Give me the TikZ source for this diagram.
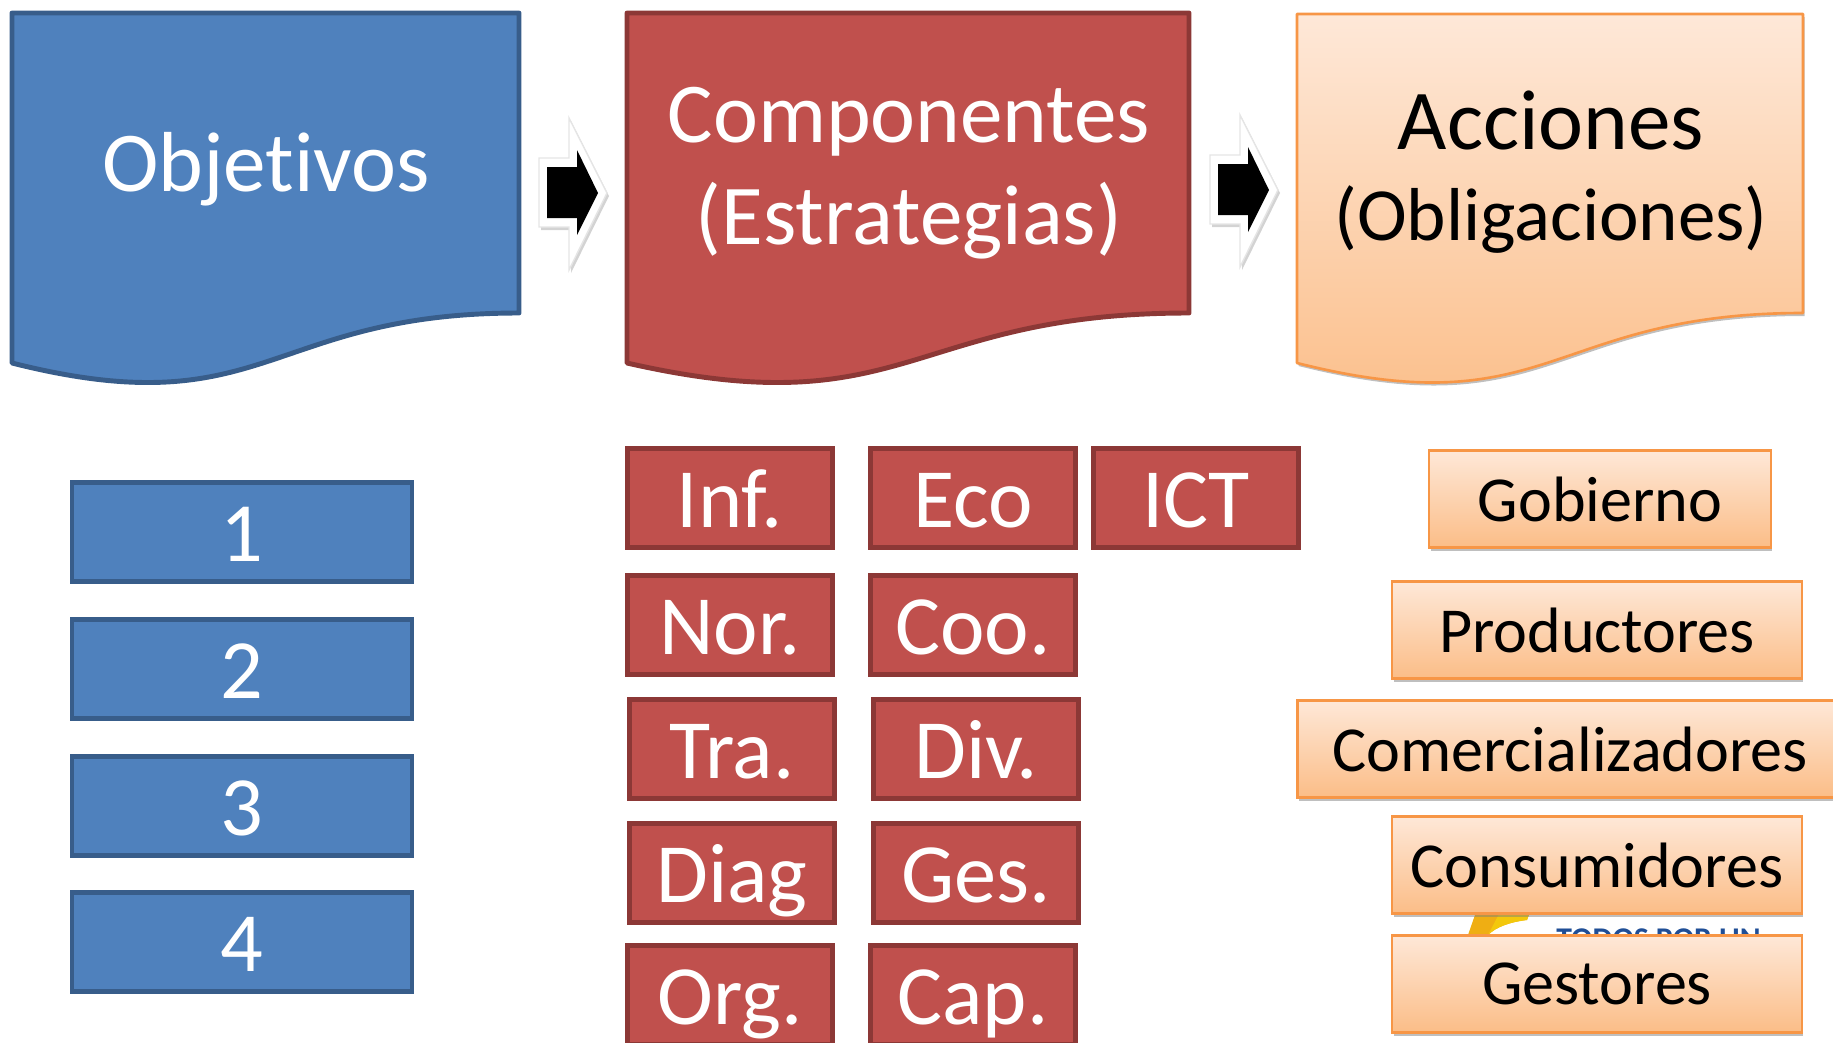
\documentclass[tikz,border=0pt]{standalone}
\usepackage{fontspec}
\setmainfont[Ligatures=NoCommon]{Carlito}
\usetikzlibrary{shadows}
\definecolor{bluefill}{HTML}{4F81BD}
\definecolor{blueline}{HTML}{385D8A}
\definecolor{redfill}{HTML}{C0504D}
\definecolor{redline}{HTML}{8C3836}
\definecolor{orangeline}{HTML}{F79646}
\definecolor{orangetop}{HTML}{FEE8D8}
\definecolor{orangebot}{HTML}{FBBD87}
\definecolor{logoyellow}{HTML}{EFAE13}
\definecolor{logolight}{HTML}{F3C80C}
\definecolor{logoblue}{HTML}{1F4E96}

\begin{document}
\begin{tikzpicture}[x=0.02cm, y=-0.02cm]
    \tikzstyle{bluedoc} = [draw=blueline, fill=bluefill, line width=2.8pt, line join=round]
    \tikzstyle{reddoc} = [draw=redline, fill=redfill, line width=2.8pt, line join=round]
    \tikzstyle{orangedoc} = [draw=orangeline, line width=1.5pt, line join=round, top color=orangetop, bottom color=orangebot, drop shadow={shadow xshift=0.03cm, shadow yshift=-0.06cm, opacity=0.5}]
    \tikzstyle{bluebox} = [rectangle, draw=blueline, fill=bluefill, line width=2.8pt, inner sep=0pt, minimum width=6.8cm, minimum height=1.98cm, text height=43pt, text depth=9pt, text=white, font=\fontsize{48}{48}\selectfont]
    \tikzstyle{redbox} = [rectangle, draw=redline, fill=redfill, line width=2.8pt, inner sep=0pt, minimum width=4.1cm, minimum height=1.98cm, text height=43pt, text depth=9pt, text=white, font=\fontsize{48}{48}\selectfont]
    \tikzstyle{orangebox} = [rectangle, draw=orangeline, line width=1.5pt, top color=orangetop, bottom color=orangebot, drop shadow={shadow xshift=0.03cm, shadow yshift=-0.06cm, opacity=0.5}, minimum height=1.95cm, font=\fontsize{36.5}{36.5}\selectfont]
    \tikzstyle{whitearrow} = [draw=black!10, line width=0.8pt, fill=white, drop shadow={shadow xshift=0.04cm, shadow yshift=-0.06cm, opacity=0.35}]

    \useasboundingbox (0,0) rectangle (1833,1042);
    \clip (0,0) rectangle (1833,1042);

    % top documents
    \draw[bluedoc] (12,13) -- (519,13) -- (519,313) .. controls (266,313) and (266,427) .. (12,363) -- cycle;
    \draw[reddoc] (627,13) -- (1189,13) -- (1189,313) .. controls (908,313) and (908,427) .. (627,363) -- cycle;
    \draw[orangedoc] (1297,14) -- (1803,14) -- (1803,313) .. controls (1550,313) and (1550,427) .. (1297,363) -- cycle;
    \node[text=white, font=\fontsize{48.5}{48.5}\selectfont] (objetivos) at (266,169) {Objetivos};
    \node[text=white, align=center, font=\fontsize{48.5}{58}\selectfont] (componentes) at (909,173) {Componentes\\(Estrategias)};
    \node[align=center, font=\fontsize{48.5}{52}\selectfont] (acciones) at (1551,172) {Acciones\\\fontsize{42.7}{52}\selectfont(Obligaciones)};

    % block arrows
    \foreach \dx/\dy in {0/0, 671/-3} {
        \path[whitearrow, shift={(\dx,\dy)}] (539,158) -- (569,158) -- (569,118) -- (607,193) -- (569,270) -- (569,227) -- (539,227) -- cycle;
        \fill[black, shift={(\dx,\dy)}] (547,167) -- (577,167) -- (577,150) -- (598,193) -- (577,235) -- (577,218) -- (547,218) -- cycle;
    }

    % left column
    \node[bluebox] (uno) at (242,532) {1};
    \node[bluebox] (dos) at (242,669) {2};
    \node[bluebox] (tres) at (242,806) {3};
    \node[bluebox] (cuatro) at (242,942) {4};

    % middle columns
    \node[redbox] (inf) at (730,498) {Inf.};
    \node[redbox] (eco) at (973,498) {Eco};
    \node[redbox] (ict) at (1196,498) {ICT};
    \node[redbox] (nor) at (730,625) {Nor.};
    \node[redbox] (coo) at (973,625) {Coo.};
    \node[redbox] (tra) at (732,749) {Tra.};
    \node[redbox] (div) at (976,749) {Div.};
    \node[redbox] (diag) at (732,873) {Diag};
    \node[redbox] (ges) at (976,873) {Ges.};
    \node[redbox] (org) at (730,995) {Org.};
    \node[redbox] (cap) at (973,995) {Cap.};

    % logo behind the last boxes
    \fill[logoyellow] (1468,935) -- (1476,912) -- (1530,912) -- (1527,920) .. controls (1510,922) and (1496,927) .. (1488,935) -- cycle;
    \fill[logolight] (1488,935) .. controls (1496,927) and (1510,922) .. (1527,920) -- (1530,912) -- (1500,912) -- cycle;
    \node[anchor=north west, inner sep=0pt, text=logoblue, font=\fontsize{18}{18}\selectfont\bfseries] (logo) at (1556,928) {TODOS POR UN};

    % right column
    \node[orangebox, minimum width=6.84cm] (gobierno) at (1600,499) {Gobierno};
    \node[orangebox, minimum width=8.2cm] (productores) at (1597,630) {Productores};
    \node[orangebox, minimum width=10.9cm] (comercializadores) at (1570,749) {Comercializadores};
    \node[orangebox, minimum width=8.2cm] (consumidores) at (1597,865) {Consumidores};
    \node[orangebox, minimum width=8.2cm] (gestores) at (1597,984) {Gestores};
\end{tikzpicture}
\end{document}
